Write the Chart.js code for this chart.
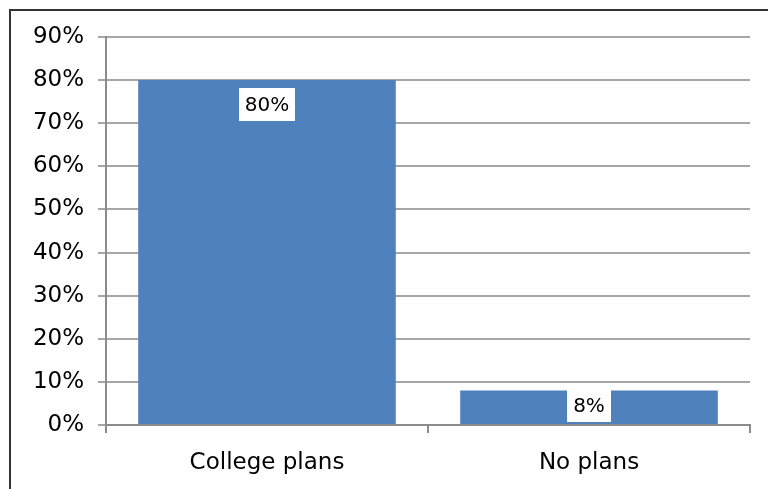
<!DOCTYPE html>
<html lang="en">
<head>
  <meta charset="UTF-8" />
  <title>College plans</title>
  <script src="https://cdn.jsdelivr.net/npm/chart.js"></script>
  <style>
    body {
      margin: 0;
      background: #fff;
      font-family: "DejaVu Sans", sans-serif;
    }

    .wrap {
      position: relative;
      width: 768px;
      height: 489px;
      overflow: hidden;
    }

    .frame {
      position: absolute;
      left: 9px;
      top: 9px;
      width: 800px;
      height: 520px;
      border-left: 2px solid #333;
      border-top: 2px solid #333;
      pointer-events: none;
    }

    canvas {
      position: absolute;
      left: 0;
      top: 0;
    }
  </style>
</head>
<body>
  <div class="wrap">
    <canvas id="plansChart" width="768" height="489"></canvas>
    <div class="frame"></div>
  </div>

  <script>
    const categories = ['College plans', 'No plans'];
    const percentages = [80, 8];
    const valueLabels = ['80%', '8%'];
    const yTickLabels = ['0%', '10%', '20%', '30%', '40%', '50%', '60%', '70%', '80%', '90%'];

    // white boxed labels inside the top of each bar, like the Excel original
    const boxLabels = {
      id: 'boxLabels',
      afterDatasetsDraw(chart) {
        const ctx = chart.ctx;
        const meta = chart.getDatasetMeta(0);
        ctx.save();
        ctx.font = '20px "DejaVu Sans"';
        ctx.textBaseline = 'middle';
        ctx.textAlign = 'center';
        meta.data.forEach((bar, i) => {
          const text = valueLabels[i];
          const w = ctx.measureText(text).width + 12;
          const h = 33;
          let top = bar.y + 8;
          if (top + h > bar.base - 2) top = bar.base - h - 2;
          ctx.fillStyle = '#fff';
          ctx.fillRect(Math.round(bar.x - w / 2), Math.round(top), Math.round(w), h);
          ctx.fillStyle = '#000';
          ctx.fillText(text, bar.x, top + h / 2 + 1);
        });
        ctx.restore();
      }
    };

    new Chart(document.getElementById('plansChart'), {
      type: 'bar',
      data: {
        labels: categories,
        datasets: [{
          data: percentages,
          backgroundColor: '#4F81BD',
          barPercentage: 0.8,
          categoryPercentage: 1
        }]
      },
      options: {
        responsive: false,
        animation: false,
        layout: {
          padding: { left: 0, right: 18, top: 37, bottom: 0 }
        },
        plugins: {
          legend: { display: false },
          tooltip: { enabled: false }
        },
        scales: {
          x: {
            grid: {
              offset: true,
              drawOnChartArea: false,
              drawTicks: true,
              tickLength: 8,
              color: '#8c8c8c',
              lineWidth: 2
            },
            border: { color: '#8c8c8c', width: 2 },
            ticks: {
              color: '#000',
              padding: 16,
              font: { family: 'DejaVu Sans', size: 23 }
            },
            afterFit(s) {
              s.height = 64;
              s.paddingLeft = 0;
              s.paddingRight = 0;
            }
          },
          y: {
            min: 0,
            max: 90,
            ticks: {
              stepSize: 10,
              color: '#000',
              padding: 14,
              font: { family: 'DejaVu Sans', size: 23 },
              callback: (v, i) => yTickLabels[i]
            },
            grid: {
              color: '#a6a6a6',
              lineWidth: 2,
              tickLength: 8
            },
            border: { color: '#8c8c8c', width: 2 },
            afterFit(s) {
              s.width = 106;
              s.paddingTop = 0;
              s.paddingBottom = 0;
            }
          }
        }
      },
      plugins: [boxLabels]
    });
  </script>
</body>
</html>
